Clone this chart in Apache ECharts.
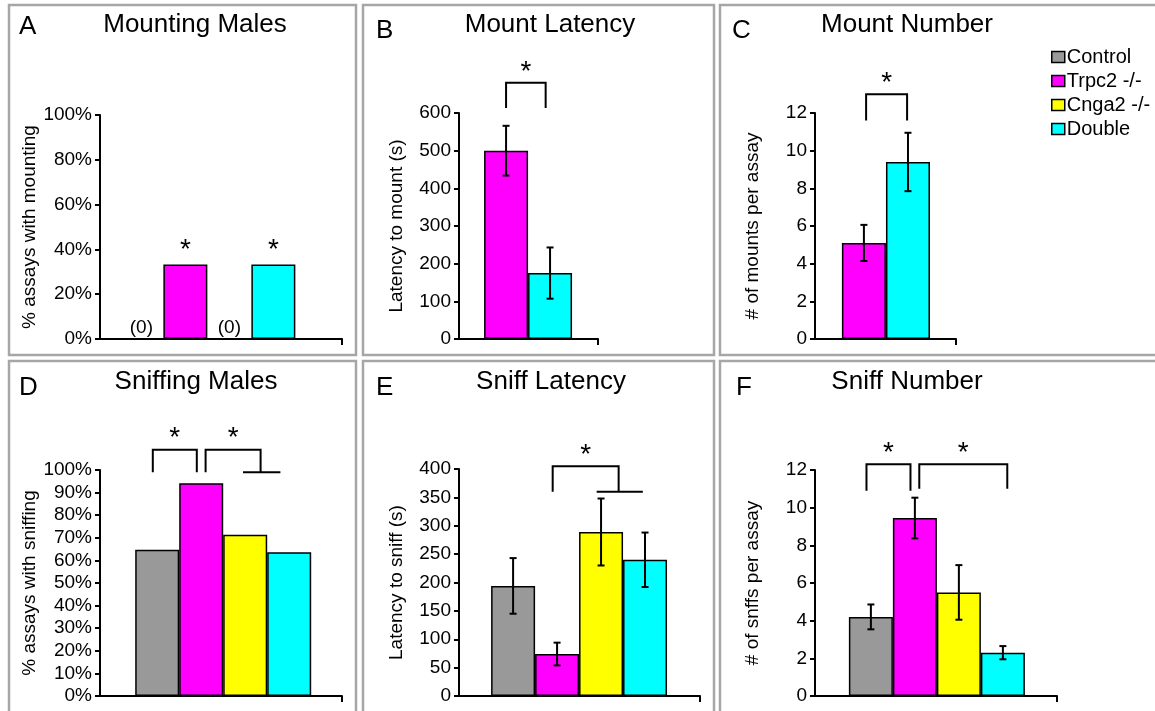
<!DOCTYPE html>
<html>
<head>
<meta charset="utf-8">
<script src="https://cdn.jsdelivr.net/npm/echarts@6/dist/echarts.min.js"></script>
<style>
html, body { margin: 0; padding: 0; background: #fff; }
#chart { width: 1155px; height: 711px; }
</style>
</head>
<body>
<div id="chart"></div>
<script>
// genotypes, shared by every panel
var genotypes = ['Control', 'Trpc2 -/-', 'Cnga2 -/-', 'Double'];
var genoColors = ['#999999', '#ff00ff', '#ffff00', '#00ffff'];

// A - Mounting Males (% assays with mounting)
var catA = [0, 1, 2, 3];
var valA = [0, 33.3, 0, 33.3];
var lblA = ['(0)', '*', '(0)', '*'];

// B - Mount Latency (s)
var catB = [1, 3];
var valB = [500, 175];
var errB = [66, 68];
var brkB = [[0, 0.9, 680, 613]];

// C - Mount Number
var catC = [1, 3];
var valC = [5.1, 9.4];
var errC = [0.96, 1.55];
var brkC = [[0.05, 0.98, 13, 11.6]];

// D - Sniffing Males (% assays with sniffing)
var catD = [0, 1, 2, 3];
var valD = [64.7, 94.1, 71.4, 63.6];
var brkD = [[-0.1, 0.9, 109, 99], [1.1, 2.35, 109, 99, 1.95, 2.8]];

// E - Sniff Latency (s)
var catE = [0, 1, 2, 3];
var valE = [194, 74, 289, 240];
var errE = [49, 20, 59, 48];
var brkE = [[0.9, 2.4, 405, 360, 1.9, 2.95]];

// F - Sniff Number
var catF = [0, 1, 2, 3];
var valF = [4.2, 9.45, 5.5, 2.3];
var errF = [0.66, 1.08, 1.45, 0.35];
var brkF = [[-0.1, 0.9, 12.3, 10.9], [1.1, 3.1, 12.3, 11.0]];

var FONT = "'Liberation Sans', Arial, sans-serif";

// panel layout
var panels = [
  { letter: 'A', title: 'Mounting Males', yName: '% assays with mounting', cats: catA, vals: valA, errs: null, labels: lblA, brk: [],
    yMax: 100, yStep: 20, pct: true, grid: { left: 100, top: 115, width: 242, height: 224 }, xr: [-0.94, 4.56],
    tx: 195, ty: 25, lx: 19, ly: 27, box: [9, 5, 347, 350] },
  { letter: 'B', title: 'Mount Latency', yName: 'Latency to mount (s)', cats: catB, vals: valB, errs: errB, labels: null, brk: brkB,
    yMax: 600, yStep: 100, pct: false, grid: { left: 459, top: 113, width: 139, height: 226 }, xr: [-1.07, 2.09],
    tx: 550, ty: 25, lx: 376, ly: 31, box: [363, 5, 351, 350] },
  { letter: 'C', title: 'Mount Number', yName: '# of mounts per assay', cats: catC, vals: valC, errs: errC, labels: null, brk: brkC,
    yMax: 12, yStep: 2, pct: false, grid: { left: 815, top: 113, width: 141, height: 226 }, xr: [-1.11, 2.09],
    tx: 907, ty: 25, lx: 732, ly: 31, box: [720, 5, 450, 350] },
  { letter: 'D', title: 'Sniffing Males', yName: '% assays with sniffing', cats: catD, vals: valD, errs: null, labels: null, brk: brkD,
    yMax: 100, yStep: 10, pct: true, grid: { left: 100, top: 470, width: 242, height: 226 }, xr: [-1.3, 4.2],
    tx: 196, ty: 382, lx: 19, ly: 388, box: [9, 361, 347, 360] },
  { letter: 'E', title: 'Sniff Latency', yName: 'Latency to sniff (s)', cats: catE, vals: valE, errs: errE, labels: null, brk: brkE,
    yMax: 400, yStep: 50, pct: false, grid: { left: 459, top: 469, width: 241, height: 227 }, xr: [-1.23, 4.25],
    tx: 551, ty: 382, lx: 376, ly: 388, box: [363, 361, 351, 360] },
  { letter: 'F', title: 'Sniff Number', yName: '# of snffs per assay', cats: catF, vals: valF, errs: errF, labels: null, brk: brkF,
    yMax: 12, yStep: 2, pct: false, grid: { left: 815, top: 470, width: 242, height: 226 }, xr: [-1.27, 4.23],
    tx: 907, ty: 382, lx: 736, ly: 388, box: [720, 361, 450, 360] }
];

var blackLine = { color: '#000', width: 2 };
var grids = [], xAxes = [], yAxes = [], series = [], graphics = [];

panels.forEach(function (p, k) {
  grids.push(p.grid);
  xAxes.push({
    type: 'value', gridIndex: k, min: p.xr[0], max: p.xr[1],
    axisLine: { show: true, onZero: false, lineStyle: blackLine },
    axisTick: { show: true, customValues: [p.xr[1]], length: 6, lineStyle: blackLine },
    axisLabel: { show: false }, splitLine: { show: false }
  });
  yAxes.push({
    type: 'value', gridIndex: k, min: 0, max: p.yMax, interval: p.yStep,
    name: p.yName, nameLocation: 'middle', nameRotate: 90, nameGap: 53,
    nameTextStyle: { fontSize: 19, color: '#000', fontFamily: FONT },
    axisLine: { show: true, onZero: false, lineStyle: blackLine },
    axisTick: { show: true, length: 5, lineStyle: blackLine },
    axisLabel: { fontSize: 19, color: '#000', fontFamily: FONT, margin: 8, formatter: p.pct ? '{value}%' : '{value}' },
    splitLine: { show: false }
  });

  // one bar series per genotype, overlapped so each bar sits on its own x
  p.cats.forEach(function (g, j) {
    var item = { value: [j, p.vals[j]] };
    if (p.labels) {
      var star = p.labels[j] === '*';
      item.label = {
        show: true, position: 'top', distance: star ? 0 : 1, formatter: p.labels[j],
        fontSize: star ? 28 : 19, color: '#000', fontFamily: FONT
      };
    }
    series.push({
      type: 'bar', name: genotypes[g], xAxisIndex: k, yAxisIndex: k,
      barWidth: 44, barGap: '-100%',
      itemStyle: { color: genoColors[g], borderColor: '#000', borderWidth: 1.5 },
      emphasis: { disabled: true },
      data: [item]
    });
  });

  if (p.errs) {
    series.push({
      type: 'custom', xAxisIndex: k, yAxisIndex: k, z: 5, clip: false,
      data: p.vals.map(function (v, j) { return [j, v, p.errs[j]]; }),
      encode: { x: 0, y: 1 },
      renderItem: function (params, api) {
        var x = api.value(0), m = api.value(1), e = api.value(2);
        var t = api.coord([x, m + e]), b = api.coord([x, m - e]);
        var c = 3.5, st = { stroke: '#000', lineWidth: 2 };
        return { type: 'group', children: [
          { type: 'line', shape: { x1: t[0], y1: t[1], x2: b[0], y2: b[1] }, style: st },
          { type: 'line', shape: { x1: t[0] - c, y1: t[1], x2: t[0] + c, y2: t[1] }, style: st },
          { type: 'line', shape: { x1: b[0] - c, y1: b[1], x2: b[0] + c, y2: b[1] }, style: st }
        ] };
      }
    });
  }

  if (p.brk.length) {
    var list = p.brk;
    series.push({
      type: 'custom', xAxisIndex: k, yAxisIndex: k, z: 5, clip: false,
      data: list.map(function (b) { return [b[0], b[2]]; }),
      renderItem: function (params, api) {
        var b = list[params.dataIndex];
        var l = api.coord([b[0], b[2]]), r = api.coord([b[1], b[2]]);
        var yb = api.coord([b[0], b[3]])[1];
        var st = { stroke: '#000', lineWidth: 2, fill: null };
        var kids = [{ type: 'polyline', shape: { points: [[l[0], yb], l, r, [r[0], yb]] }, style: st }];
        if (b.length > 4) {
          var f1 = api.coord([b[4], b[3]]), f2 = api.coord([b[5], b[3]]);
          kids.push({ type: 'line', shape: { x1: f1[0], y1: f1[1], x2: f2[0], y2: f2[1] }, style: st });
        }
        kids.push({ type: 'text', style: { text: '*', x: (l[0] + r[0]) / 2, y: l[1] - 11, align: 'center', verticalAlign: 'middle',
          fontSize: 28, fontFamily: FONT, fill: '#000' } });
        return { type: 'group', children: kids };
      }
    });
  }

  graphics.push({ type: 'rect', shape: { x: p.box[0], y: p.box[1], width: p.box[2], height: p.box[3] },
    style: { fill: null, stroke: '#a6a6a6', lineWidth: 2.5 }, silent: true });
  graphics.push({ type: 'text', x: p.tx, y: p.ty, style: { text: p.title, align: 'center', verticalAlign: 'middle',
    fontSize: 26, fontFamily: FONT, fill: '#000' } });
  graphics.push({ type: 'text', x: p.lx, y: p.ly, style: { text: p.letter, align: 'left', verticalAlign: 'middle',
    fontSize: 26, fontFamily: FONT, fill: '#000' } });
});

var chart = echarts.init(document.getElementById('chart'));
chart.setOption({
  animation: false,
  backgroundColor: '#fff',
  grid: grids,
  xAxis: xAxes,
  yAxis: yAxes,
  legend: {
    data: genotypes, orient: 'vertical', left: 1046, top: 42,
    itemWidth: 13, itemHeight: 11, itemGap: 4, icon: 'rect', selectedMode: false,
    itemStyle: { borderColor: '#000', borderWidth: 1.5 },
    textStyle: { fontSize: 20, fontFamily: FONT, color: '#000', lineHeight: 14, padding: [0, 0, 0, -3] }
  },
  graphic: graphics,
  series: series
});
</script>
</body>
</html>
